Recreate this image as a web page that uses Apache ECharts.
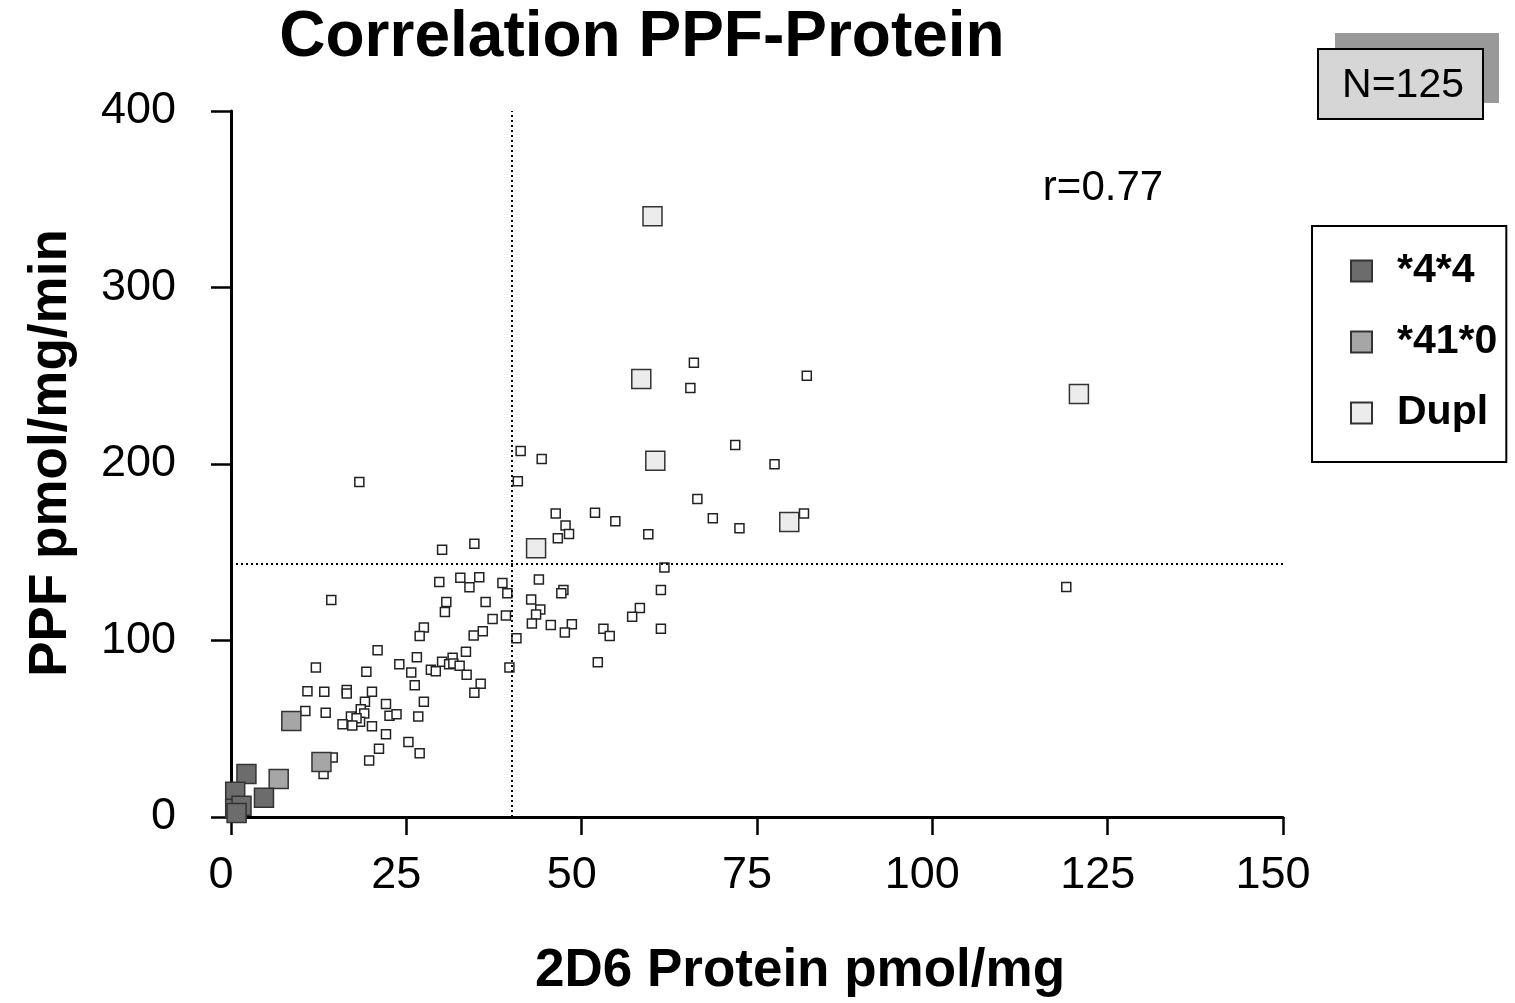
<!DOCTYPE html>
<html>
<head>
<meta charset="utf-8">
<script src="https://cdn.jsdelivr.net/npm/echarts@6/dist/echarts.min.js"></script>
<style>
  html, body { margin: 0; padding: 0; background: #fff; }
  #chart { width: 1515px; height: 1003px; }
</style>
</head>
<body>
<div id="chart"></div>
<script>
// individual samples (small open squares)
const otherX = [20.9, 12.1, 19.3, 24.0, 26.5, 25.7, 28.5, 29.2, 30.1, 31.6, 31.1, 31.7, 32.6, 33.5, 33.6, 35.6, 34.7, 39.7,
  10.9, 13.3, 16.5, 16.5, 20.1, 19.1, 22.1, 26.2, 27.5, 10.6, 13.5, 18.5, 19.0, 17.1, 18.4, 17.9, 15.9, 17.3, 20.1,
  22.6, 23.6, 26.7, 22.1, 25.3, 26.9, 21.1, 19.7, 14.5, 13.2,
  41.3, 44.3, 40.9, 71.9, 77.5, 66.5, 68.7, 72.5, 81.7, 46.3, 51.9, 54.8, 47.7, 48.2, 46.6, 59.5, 61.8, 43.9, 61.3,
  47.4, 47.1, 42.8, 39.4, 38.7, 44.1, 43.5, 42.9, 39.2, 45.6, 48.6, 47.6, 58.3, 57.2, 53.1, 54.0, 61.3, 40.7, 52.3,
  18.3, 30.1, 34.7, 14.3, 29.7, 32.7, 34.0, 35.4, 30.7, 30.5, 36.3, 37.3, 27.5, 26.9, 35.9, 34.6,
  66.0, 65.5, 82.1, 119.1]
const otherY = [94.5, 84.7, 82.3, 86.6, 90.5, 81.9, 83.4, 82.6, 87.9, 90.2, 86.6, 87.0, 85.7, 93.6, 80.6, 75.5, 70.4, 84.7,
  71.2, 71.0, 71.9, 70.0, 71.0, 65.3, 64.0, 74.7, 65.3, 60.0, 59.1, 61.0, 58.7, 56.9, 54.0, 55.9, 52.5, 51.8, 51.4,
  57.4, 58.2, 56.9, 46.9, 42.5, 36.1, 38.6, 32.0, 33.7, 24.3,
  207.3, 202.9, 190.2, 210.7, 199.8, 180.2, 169.3, 163.6, 171.9, 171.9, 172.4, 167.6, 165.1, 160.4, 158.0, 160.2, 141.4, 134.6, 128.6,
  128.6, 126.7, 123.3, 126.7, 132.6, 117.5, 114.7, 109.7, 114.1, 108.8, 109.2, 104.5, 118.4, 113.5, 106.6, 102.6, 106.7, 101.3, 87.7,
  189.8, 151.4, 154.8, 123.0, 133.1, 135.5, 130.1, 135.9, 121.8, 116.2, 121.8, 112.2, 107.3, 102.6, 105.2, 102.8,
  257.4, 243.0, 250.0, 130.3]

const pmX = [2.2, 4.7, 0.6, 0.6, 1.5, 0.8]
const pmY = [24.3, 10.9, 14.3, 4.7, 6.4, 2.3]

const imX = [8.6, 12.9, 6.8]
const imY = [54.4, 31.1, 21.6]

const duplX = [60.1, 58.5, 120.9, 60.5, 79.6, 43.5]
const duplY = [340.4, 248.1, 239.6, 201.8, 167.2, 152.3]

const cutX = 40.1, cutY = 143.5
const xTicks = [0, 150, 25]
const yTicks = [0, 400, 100]

const FONT = 'Liberation Sans, Arial, sans-serif'
const pairs = (xs, ys) => xs.map((x, i) => [x, ys[i]])

const chart = echarts.init(document.getElementById('chart'))

const axisCommon = {
  type: 'value',
  splitLine: { show: false },
  axisLine: { onZero: false, lineStyle: { color: '#000', width: 3 } },
  axisTick: { lineStyle: { color: '#000', width: 2.5 } },
  axisLabel: { color: '#000', fontSize: 45, fontFamily: FONT },
  nameLocation: 'middle',
  nameTextStyle: { color: '#000', fontSize: 53, fontWeight: 'bold', fontFamily: FONT }
}

chart.setOption({
  animation: false,
  title: {
    text: 'Correlation PPF-Protein', left: 642, top: 38, textAlign: 'center', textVerticalAlign: 'middle',
    padding: 0,
    textStyle: { fontSize: 64, fontWeight: 'bold', fontFamily: FONT, color: '#000' }
  },
  grid: { left: 231, right: 232, top: 111, bottom: 184 },
  xAxis: Object.assign({}, axisCommon, {
    min: xTicks[0], max: xTicks[1], interval: xTicks[2],
    name: '2D6 Protein pmol/mg', nameGap: 128,
    axisTick: { length: 18, lineStyle: { color: '#000', width: 2.5 } },
    axisLabel: Object.assign({}, axisCommon.axisLabel, { margin: 36, padding: [0, 20, 0, 0] }),
    nameTextStyle: Object.assign({}, axisCommon.nameTextStyle, { padding: [0, 0, 0, 86] })
  }),
  yAxis: Object.assign({}, axisCommon, {
    min: yTicks[0], max: yTicks[1], interval: yTicks[2],
    name: 'PPF pmol/mg/min', nameGap: 153,
    axisTick: { length: 20, lineStyle: { color: '#000', width: 2.5 } },
    axisLabel: Object.assign({}, axisCommon.axisLabel, { margin: 55, padding: [16, 0, 0, 0] }),
    nameTextStyle: Object.assign({}, axisCommon.nameTextStyle, { padding: [0, 0, 0, 22] })
  }),
  legend: {
    data: ['*4*4', '*41*0', 'Dupl'],
    orient: 'vertical', left: 1312, top: 226,
    icon: 'rect', itemWidth: 21, itemHeight: 21, itemGap: 29,
    padding: [24, 9, 28, 38],
    backgroundColor: '#fff', borderColor: '#000', borderWidth: 2,
    textStyle: { fontSize: 41, fontWeight: 'bold', fontFamily: FONT, color: '#000', padding: [0, 0, 0, 20], lineHeight: 42 }
  },
  graphic: [
    { type: 'rect', shape: { x: 1335, y: 33, width: 164, height: 70 }, style: { fill: '#999' } },
    { type: 'rect', shape: { x: 1318, y: 49, width: 165, height: 70 }, style: { fill: '#d6d6d6', stroke: '#000', lineWidth: 2 } },
    { type: 'text', x: 1403, y: 86, style: { text: 'N=125', fill: '#000', font: '41px ' + FONT, textAlign: 'center', textVerticalAlign: 'middle' } },
    { type: 'text', x: 1103, y: 188, style: { text: 'r=0.77', fill: '#000', font: '42px ' + FONT, textAlign: 'center', textVerticalAlign: 'middle' } }
  ],
  series: [
    {
      name: 'other', type: 'scatter', symbol: 'rect', symbolSize: 9,
      itemStyle: { color: '#fff', borderColor: '#222', borderWidth: 1.5, opacity: 1 },
      data: pairs(otherX, otherY),
      markLine: {
        silent: true, symbol: ['none', 'none'], label: { show: false },
        lineStyle: { color: '#000', width: 2, type: [2, 3] },
        data: [{ xAxis: cutX }, { yAxis: cutY }]
      }
    },
    {
      name: 'Dupl', type: 'scatter', symbol: 'rect', symbolSize: 19,
      itemStyle: { color: '#ececec', borderColor: '#333', borderWidth: 1.5, opacity: 1 },
      data: pairs(duplX, duplY)
    },
    {
      name: '*41*0', type: 'scatter', symbol: 'rect', symbolSize: 19,
      itemStyle: { color: '#a6a6a6', borderColor: '#333', borderWidth: 1.5, opacity: 1 },
      data: pairs(imX, imY)
    },
    {
      name: '*4*4', type: 'scatter', symbol: 'rect', symbolSize: 19,
      itemStyle: { color: '#6c6c6c', borderColor: '#333', borderWidth: 1.5, opacity: 1 },
      data: pairs(pmX, pmY)
    }
  ]
})

window.addEventListener('resize', () => chart.resize())
</script>
</body>
</html>
